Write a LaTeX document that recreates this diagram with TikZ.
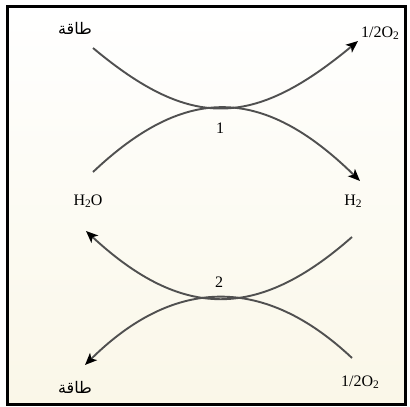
\documentclass[tikz,border=0pt]{standalone}
\usepackage{fontspec}
\setmainfont{Liberation Serif}
\newfontfamily\arabicfont[Script=Arabic]{DejaVu Sans}
\TeXXeTstate=1
\usetikzlibrary{arrows.meta}
\newcommand{\mysub}[1]{\raisebox{-0.3ex}{\fontsize{11.5}{11.5}\selectfont #1}}
\definecolor{cream}{HTML}{FAF7E8}
\definecolor{curvegray}{HTML}{505050}
\tikzset{
  lbl/.style={inner sep=0pt, font=\fontsize{16}{16}\selectfont},
  arlbl/.style={inner sep=0pt, font=\fontsize{16}{16}\selectfont\arabicfont},
  flow/.style={draw=curvegray, line width=1.9pt},
  flowarr/.style={flow, -{Stealth[length=12pt,width=10pt,inset=3pt,color=black]}},
}
\begin{document}
\begin{tikzpicture}[x=1pt,y=-1pt]
\useasboundingbox (0,0) rectangle (410,407);
\shade[top color=white, bottom color=cream] (7,6) rectangle (405,404);
\draw[line width=3pt] (7,6) rectangle (405,404);

% labels
\node[arlbl] (e1) at (75,28) {\beginR طاقة\endR};
\node[arlbl] (e2) at (75,387) {\beginR طاقة\endR};
\node[lbl] (o1) at (380,33) {1/2O\mysub{2}};
\node[lbl] (o2) at (360,382) {1/2O\mysub{2}};
\node[lbl] (w) at (88,201) {H\mysub{2}O};
\node[lbl] (h) at (353,201) {H\mysub{2}};
\node[lbl] (n1) at (220,128) {1};
\node[lbl] (n2) at (219,282) {2};

% curve end points
\coordinate (a0) at (93,48);
\coordinate (a1) at (358,41);
\coordinate (b0) at (93,172);
\coordinate (b1) at (360,181);
\coordinate (c0) at (352,237);
\coordinate (c1) at (86,231);
\coordinate (d0) at (352,358);
\coordinate (d1) at (85,365);

\draw[flowarr] (a0) .. controls (190,129) and (252,129) .. (a1);
\draw[flowarr] (b0) .. controls (185,85) and (262,85) .. (b1);
\draw[flowarr] (c0) .. controls (258,320) and (182,320) .. (c1);
\draw[flowarr] (d0) .. controls (265,276) and (175,276) .. (d1);
\end{tikzpicture}
\end{document}
